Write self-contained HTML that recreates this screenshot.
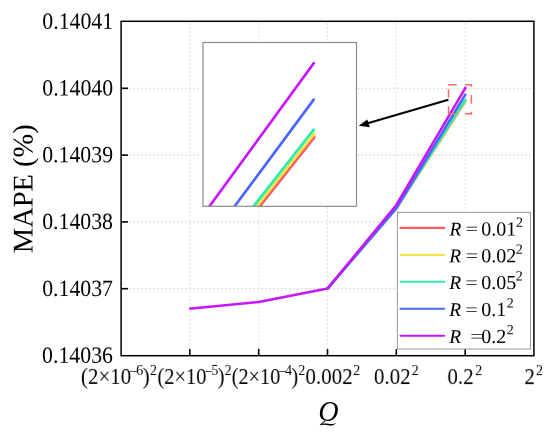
<!DOCTYPE html>
<html><head><meta charset="utf-8">
<style>
html,body{margin:0;padding:0;background:#fff;width:550px;height:434px;overflow:hidden}
svg{display:block;will-change:transform}
text{font-family:"Liberation Serif",serif;fill:#000}
</style></head>
<body>
<svg width="550" height="434" viewBox="0 0 550 434">
<defs>
<clipPath id="ci"><rect x="203" y="42.5" width="153.5" height="163.8"/></clipPath>
</defs>
<!-- grid -->
<g stroke-width="1" stroke-dasharray="1.6 2.4" fill="none">
<g stroke="#c8c8c8">
<line x1="121.5" y1="88.3" x2="533" y2="88.3"/>
<line x1="121.5" y1="155.1" x2="533" y2="155.1"/>
<line x1="121.5" y1="221.9" x2="533" y2="221.9"/>
<line x1="121.5" y1="288.7" x2="533" y2="288.7"/>
</g>
<g stroke="#dadada">
<line x1="189.8" y1="23" y2="354" x2="189.8"/>
<line x1="258.7" y1="23" y2="354" x2="258.7"/>
<line x1="327.5" y1="23" y2="354" x2="327.5"/>
<line x1="396.3" y1="23" y2="354" x2="396.3"/>
<line x1="465.2" y1="23" y2="354" x2="465.2"/>
</g>
</g>
<!-- ticks -->
<g stroke="#000" stroke-width="1.6">
<line x1="121" y1="88.3" x2="128" y2="88.3"/>
<line x1="121" y1="155.1" x2="128" y2="155.1"/>
<line x1="121" y1="221.9" x2="128" y2="221.9"/>
<line x1="121" y1="288.7" x2="128" y2="288.7"/>
<line x1="189.8" y1="355.5" x2="189.8" y2="349"/>
<line x1="258.7" y1="355.5" x2="258.7" y2="349"/>
<line x1="327.5" y1="355.5" x2="327.5" y2="349"/>
<line x1="396.3" y1="355.5" x2="396.3" y2="349"/>
<line x1="465.2" y1="355.5" x2="465.2" y2="349"/>
</g>
<!-- main data -->
<g fill="none" stroke-width="2.5" stroke-linejoin="round" stroke-linecap="round">
<polyline stroke="#fa5a60" points="327.5,288.6 396.3,208.6 465.4,101.2"/>
<polyline stroke="#f2e14c" points="327.5,288.6 396.3,208.5 465.4,100.5"/>
<polyline stroke="#2aebaa" points="327.5,288.6 396.3,208.4 465.4,99.7"/>
<polyline stroke="#4a66ff" points="327.5,288.6 396.3,208.3 465.4,94.5"/>
<polyline stroke="#c814ff" stroke-linecap="butt" points="189.2,308.8 258.7,302.0 327.5,288.6 396.3,205 465.4,87.8"/>
<circle cx="465.4" cy="87.8" r="1.25" fill="#c814ff" stroke="none"/>
</g>
<!-- legend -->
<rect x="395.4" y="212" width="135.4" height="137" fill="#fff"/>
<rect x="397.4" y="212.4" width="133" height="136.6" fill="#fff" stroke="#9a9a9a" stroke-width="1"/>
<g stroke-width="2.1" stroke-linecap="round">
<line x1="400.5" y1="227.9" x2="444.2" y2="227.9" stroke="#fa5a60"/>
<line x1="400.5" y1="254.85" x2="444.2" y2="254.85" stroke="#f2e14c"/>
<line x1="400.5" y1="281.8" x2="444.2" y2="281.8" stroke="#2aebaa"/>
<line x1="400.5" y1="308.75" x2="444.2" y2="308.75" stroke="#4a66ff"/>
<line x1="400.5" y1="335.7" x2="444.2" y2="335.7" stroke="#c814ff"/>
</g>
<g font-size="20" transform="rotate(0.03 275 217)">
<text x="449.4" y="235.4" font-style="italic" font-size="19.4">R</text><text transform="translate(465.4,234.7) scale(1.12,0.88)" font-size="20">=</text><text x="481.3" y="235.4">0.01</text><text x="515.9" y="226.7" font-size="14">2</text>
<text x="449.4" y="262.2" font-style="italic" font-size="19.4">R</text><text transform="translate(465.4,261.5) scale(1.12,0.88)" font-size="20">=</text><text x="481.3" y="262.2">0.02</text><text x="515.7" y="253.5" font-size="14">2</text>
<text x="449.4" y="289.0" font-style="italic" font-size="19.4">R</text><text transform="translate(465.4,288.3) scale(1.12,0.88)" font-size="20">=</text><text x="481.3" y="289.0">0.05</text><text x="515.7" y="280.3" font-size="14">2</text>
<text x="449.4" y="316.0" font-style="italic" font-size="19.4">R</text><text transform="translate(465.4,315.3) scale(1.12,0.88)" font-size="20">=</text><text x="481.3" y="316.0">0.1</text><text x="506.8" y="307.3" font-size="14">2</text>
<text x="449.4" y="342.8" font-style="italic" font-size="19.4">R</text><text transform="translate(470.2,342.1) scale(1.12,0.88)" font-size="20">=</text><text x="481.3" y="342.8">0.2</text><text x="506.8" y="334.1" font-size="14">2</text>
</g>
<!-- inset -->
<rect x="203" y="42.5" width="153.5" height="163.8" fill="#fff" stroke="none"/>
<g clip-path="url(#ci)" fill="none" stroke-width="2.7" stroke-linecap="round">
<line x1="314.3" y1="137.3" x2="256.9" y2="210" stroke="#fa5a60"/>
<line x1="314.2" y1="133.8" x2="253.9" y2="210" stroke="#f2e14c"/>
<line x1="313.7" y1="129.7" x2="250.7" y2="210" stroke="#2aebaa"/>
<line x1="313.7" y1="99.6" x2="231.9" y2="210" stroke="#4a66ff"/>
<line x1="313.7" y1="63.2" x2="206.8" y2="210" stroke="#c814ff"/>
</g>
<rect x="203" y="42.5" width="153.5" height="163.8" fill="none" stroke="#8c8c8c" stroke-width="1.2"/>
<!-- dashed highlight -->
<g stroke="#f66a6a" stroke-width="1.5">
<line x1="448" y1="84.8" x2="456.7" y2="84.8"/>
<line x1="465" y1="84.8" x2="472.1" y2="84.8"/>
<line x1="471.4" y1="84.1" x2="471.4" y2="86.8"/>
<line x1="471.4" y1="95" x2="471.4" y2="103.7"/>
<line x1="471.4" y1="111.9" x2="471.4" y2="114.4"/>
<line x1="464.8" y1="113.7" x2="472.1" y2="113.7"/>
<line x1="448" y1="113.7" x2="455.4" y2="113.7"/>
<line x1="448.5" y1="89.2" x2="448.5" y2="97.6"/>
<line x1="448.5" y1="106.2" x2="448.5" y2="113.7"/>
</g>
<!-- arrow -->
<line x1="448.4" y1="99.7" x2="366" y2="123.8" stroke="#000" stroke-width="2"/>
<polygon points="358.7,125.7 367.3,119.5 369.8,127.2" fill="#000"/>
<!-- frame -->
<rect x="121.1" y="21.3" width="412.8" height="334.4" fill="none" stroke="#000" stroke-width="1.5"/>
<!-- y labels -->
<g font-size="21.8" text-anchor="end" transform="rotate(0.03 275 217)">
<text transform="translate(113,28.8) scale(1,1.07)">0.14041</text>
<text transform="translate(113,95.6) scale(1,1.07)">0.14040</text>
<text transform="translate(113,162.4) scale(1,1.07)">0.14039</text>
<text transform="translate(113,229.2) scale(1,1.07)">0.14038</text>
<text transform="translate(113,296.0) scale(1,1.07)">0.14037</text>
<text transform="translate(113,362.8) scale(1,1.07)">0.14036</text>
</g>
<!-- x labels -->
<g font-size="21" transform="rotate(0.03 275 217)">
<text transform="translate(81,383.9) scale(1,1.08)">(2×10<tspan font-size="14" dx="-1.2" dy="-8.4">–</tspan><tspan font-size="14" dx="-0.8">6</tspan><tspan dx="-0.6" dy="8.4">)</tspan><tspan font-size="14" dx="0.3" dy="-8.4">2</tspan></text>
<text transform="translate(157.4,383.9) scale(0.978,1.08)">(2×10<tspan font-size="14" dx="-1.2" dy="-8.4">–</tspan><tspan font-size="14" dx="-0.8">5</tspan><tspan dx="-0.6" dy="8.4">)</tspan><tspan font-size="14" dx="0.3" dy="-8.4">2</tspan></text>
<text transform="translate(231.7,383.9) scale(0.968,1.08)">(2×10<tspan font-size="14" dx="-1.2" dy="-8.4">–</tspan><tspan font-size="14" dx="-0.8">4</tspan><tspan dx="-0.6" dy="8.4">)</tspan><tspan font-size="14" dx="0.3" dy="-8.4">2</tspan></text>
<text transform="translate(305.5,383.9) scale(1,1.08)">0.002<tspan font-size="14" dx="0.6" dy="-8.4">2</tspan></text>
<text transform="translate(374,383.9) scale(1,1.08)">0.02<tspan font-size="14" dx="1.1" dy="-8.4">2</tspan></text>
<text transform="translate(447.5,383.9) scale(1,1.08)">0.2<tspan font-size="14" dx="1.5" dy="-8.4">2</tspan></text>
<text transform="translate(524.5,383.9) scale(1,1.08)">2<tspan font-size="14" dx="1.0" dy="-8.4">2</tspan></text>
</g>
<!-- axis titles -->
<clipPath id="cq"><rect x="300" y="395" width="50" height="26.1"/></clipPath>
<g clip-path="url(#cq)"><text transform="translate(328.3,421.3) scale(1,1.05)" font-size="28" font-style="italic" text-anchor="middle">Q</text></g>
<path d="M324.6,421.1 C322.8,422.2 321,423.5 319.6,425.4 C322.4,424.5 325.4,424.6 328.6,425.4 C331.6,426.0 334.2,425.0 336.3,422.7 C334.2,424.0 331.6,424.4 328.6,423.8 C325.8,423.3 323.4,423.3 321.9,423.7 C323,422.8 324.3,422.0 325.8,421.5 Z" fill="#000"/>
<text transform="rotate(0.03 275 217) translate(32.4,188.8) rotate(-90)" font-size="28.5" text-anchor="middle" xml:space="preserve">MAPE (%)</text>
</svg>
</body></html>
